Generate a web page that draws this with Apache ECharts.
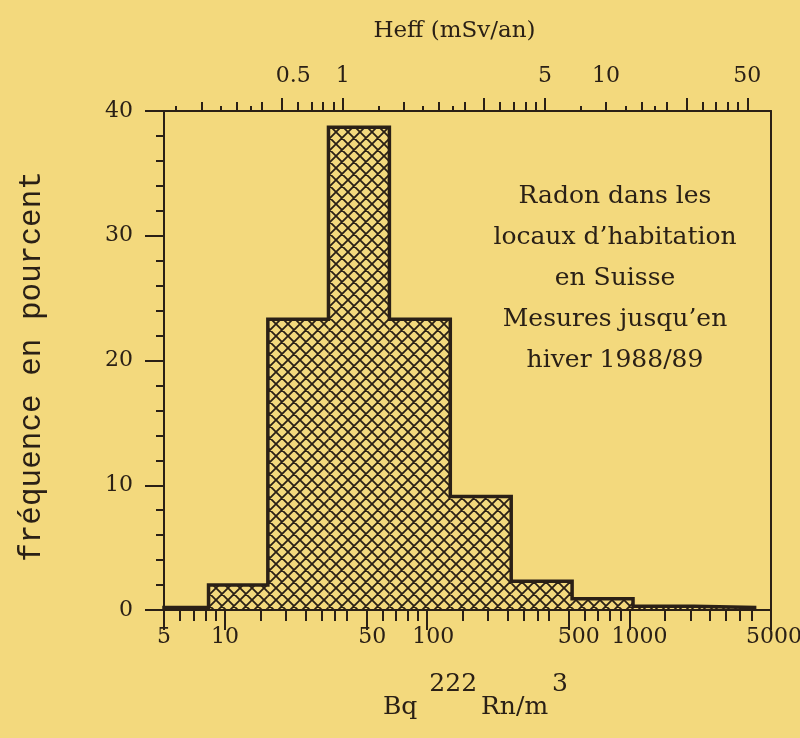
<!DOCTYPE html>
<html><head><meta charset="utf-8">
<script src="https://cdn.jsdelivr.net/npm/echarts@6/dist/echarts.min.js"></script>
<style>html,body{margin:0;padding:0;background:#F3D97D;} #c{width:800px;height:738px;}</style>
</head><body><div id="c"></div>
<script>
// ---------------- data ----------------
// histogram bin edges (Bq 222Rn / m3) and frequency of each bin (%)
const binEdges = [5, 8.3, 16.3, 32.5, 65, 130, 260, 520, 1040, 2080, 4150];
const frequencies = [0.2, 2.0, 23.3, 38.7, 23.3, 9.1, 2.3, 0.9, 0.3, 0.2];

// bottom axis (Bq/m3, logarithmic)
const bottomRange = [5, 5000];
const bottomLabelValues = [5, 10, 50, 100, 500, 1000, 5000];
const bottomMinorTicks = [6, 7, 8, 9, 15, 20, 25, 30, 35, 40, 60, 70, 80, 90,
  150, 200, 250, 300, 350, 400, 600, 700, 800, 900,
  1500, 2000, 2500, 3000, 3500, 4000];

// top axis (Heff mSv/an, logarithmic)
const bqPerMsv = 38.2;
const topLongTicks = [0.5, 1, 5, 10, 50, 100];
const topMediumTicks = [0.2, 0.3, 0.4, 0.6, 0.7, 0.8, 0.9, 2, 3, 4, 6, 7, 8, 9, 20, 30, 40, 60, 70, 80, 90];
const topShortTicks = [0.15, 0.25, 0.35, 1.5, 2.5, 3.5, 15, 25, 35];
const topLabelText = ['0.5', '1', '5', '10', '50'];
const topLabelAt = [0.57, 1, 10, 20, 100];

// y axis (%)
const yRange = [0, 40];
const yLabelStep = 10;
const yMinorStep = 2;

const noteLines = ['Radon dans les', 'locaux d\u2019habitation', 'en Suisse', 'Mesures jusqu\u2019en', 'hiver 1988/89'];

// ---------------- styles ----------------
const INK = '#2a2016';
const BG = '#F3D97D';
const SERIF = 'DejaVu Serif';
const L = Math.log10;

function hatchPattern() {
  const s = 12;
  const c = document.createElement('canvas');
  c.width = s; c.height = s;
  const g = c.getContext('2d');
  g.strokeStyle = INK; g.lineWidth = 1.8;
  g.beginPath();
  for (const k of [-s, 0, s]) { g.moveTo(k, 0); g.lineTo(k + s, s); }
  for (const k of [0, s, 2 * s]) { g.moveTo(k, 0); g.lineTo(k - s, s); }
  g.stroke();
  return { image: c, repeat: 'repeat' };
}
const hatch = hatchPattern();

const gridRect = { left: 164, right: 29, top: 111, bottom: 128, containLabel: false, outerBoundsMode: 'none', show: false };

const xMin = L(bottomRange[0]), xMax = L(bottomRange[1]);
const tMin = L(bottomRange[0] / bqPerMsv), tMax = L(bottomRange[1] / bqPerMsv);

const histData = frequencies.map((f, i) => [L(binEdges[i]), L(binEdges[i + 1]), f]);
const outline = [[L(binEdges[0]), 0]];
frequencies.forEach((f, i) => outline.push([L(binEdges[i]), f]));
outline.push([L(binEdges[binEdges.length - 1]), frequencies[frequencies.length - 1]]);
outline.push([L(binEdges[binEdges.length - 1]), 0]);

const lineSt = { color: INK, width: 2 };
const labelFont = { fontFamily: SERIF, fontSize: 22, color: INK };

// bottom labels sit a little right of their ticks in the original print
function bottomLabel(v) {
  const n = Math.round(Math.pow(10, v));
  const s = String(n);
  if (n === 5 || n === 10) return s;
  if (n === 50 || n === 100) return '{m|' + s + '}';
  if (n === 5000) return '{e|' + s + '}';
  return '{w|' + s + '}';
}

function tickAxis(gridIndex, position, min, max, values, len) {
  return {
    type: 'value', gridIndex, position, min, max,
    axisLine: { show: false, onZero: false }, splitLine: { show: false },
    axisLabel: { show: false },
    axisTick: { show: true, inside: false, length: len, customValues: values, lineStyle: lineSt }
  };
}

const option = {
  backgroundColor: BG,
  animation: false,
  textStyle: { fontFamily: SERIF, color: INK },
  grid: [Object.assign({}, gridRect), Object.assign({}, gridRect), Object.assign({}, gridRect)],
  xAxis: [
    {
      type: 'value', gridIndex: 0, position: 'bottom', min: xMin, max: xMax,
      axisLine: { show: true, onZero: false, lineStyle: lineSt }, splitLine: { show: false },
      axisTick: { show: true, length: 20, customValues: bottomLabelValues.map(L), lineStyle: lineSt },
      axisLabel: Object.assign({ customValues: bottomLabelValues.map(L), margin: 16,
        formatter: bottomLabel,
        rich: {
          m: { fontFamily: SERIF, fontSize: 22, color: INK, padding: [0, 0, 0, 12] },
          w: { fontFamily: SERIF, fontSize: 22, color: INK, padding: [0, 0, 0, 20] },
          e: { fontFamily: SERIF, fontSize: 22, color: INK, padding: [0, 0, 0, 6] }
        } }, labelFont),
      name: '{a|Bq }{s|222}{a|Rn/m}{s|3}', nameLocation: 'middle', nameGap: 62,
      nameTextStyle: { padding: [0, 0, 0, 20], rich: {
        a: { fontFamily: SERIF, fontSize: 25, color: INK, verticalAlign: 'bottom' },
        s: { fontFamily: SERIF, fontSize: 25, color: INK, verticalAlign: 'top', padding: [0, 4, 23, 4] }
      } }
    },
    {
      type: 'value', gridIndex: 0, position: 'top', min: tMin, max: tMax,
      axisLine: { show: true, onZero: false, lineStyle: lineSt }, splitLine: { show: false },
      axisTick: { show: true, length: 13, customValues: topLongTicks.map(L), lineStyle: lineSt },
      axisLabel: Object.assign({ customValues: topLabelAt.map(L), margin: 24,
        formatter: v => { const i = topLabelAt.findIndex(a => Math.abs(L(a) - v) < 1e-6); return i >= 0 ? topLabelText[i] : ''; } }, labelFont),
      name: 'Heff (mSv/an)', nameLocation: 'middle', nameGap: 68,
      nameTextStyle: { fontFamily: SERIF, fontSize: 23, color: INK, padding: [0, 26, 0, 0] }
    },
    tickAxis(1, 'bottom', xMin, xMax, bottomMinorTicks.map(L), 11),
    tickAxis(1, 'top', tMin, tMax, topMediumTicks.map(L), 9),
    tickAxis(2, 'top', tMin, tMax, topShortTicks.map(L), 5)
  ],
  yAxis: [
    {
      type: 'value', gridIndex: 0, position: 'left', min: yRange[0], max: yRange[1], interval: yLabelStep,
      axisLine: { show: true, onZero: false, lineStyle: lineSt }, splitLine: { show: false },
      axisTick: { show: true, length: 19, lineStyle: lineSt },
      axisLabel: Object.assign({ margin: 31 }, labelFont),
      name: 'fréquence en pourcent', nameLocation: 'middle', nameGap: 117, nameRotate: 90,
      nameTextStyle: { fontFamily: 'Liberation Mono', fontSize: 31, color: INK, padding: [0, 12, 0, 0] }
    },
    {
      type: 'value', gridIndex: 0, position: 'right', min: yRange[0], max: yRange[1],
      axisLine: { show: true, onZero: false, lineStyle: lineSt }, splitLine: { show: false },
      axisTick: { show: false }, axisLabel: { show: false }
    },
    {
      type: 'value', gridIndex: 1, position: 'left', min: yRange[0], max: yRange[1], interval: yMinorStep,
      axisLine: { show: false, onZero: false }, splitLine: { show: false }, axisLabel: { show: false },
      axisTick: { show: true, length: 8, lineStyle: lineSt }
    },
    { type: 'value', gridIndex: 2, show: false, min: yRange[0], max: yRange[1], axisLine: { onZero: false } }
  ],
  series: [
    {
      type: 'custom', xAxisIndex: 0, yAxisIndex: 0, z: 2,
      encode: { x: [0, 1], y: 2 },
      data: histData,
      renderItem: (params, api) => {
        const p0 = api.coord([api.value(0), 0]);
        const p1 = api.coord([api.value(1), api.value(2)]);
        return { type: 'rect', shape: { x: p0[0], y: p1[1], width: p1[0] - p0[0], height: p0[1] - p1[1] },
          style: { fill: hatch, stroke: null } };
      }
    },
    {
      type: 'line', xAxisIndex: 0, yAxisIndex: 0, z: 3, step: 'end', showSymbol: false, symbol: 'none',
      data: outline, lineStyle: { color: INK, width: 3.5, join: 'miter' }, clip: false
    }
  ],
  graphic: [
    {
      type: 'text', x: 615, y: 278,
      style: { text: noteLines.join('\n'), fontFamily: SERIF, fontSize: 25, lineHeight: 41,
        fill: INK, align: 'center', verticalAlign: 'middle' }
    }
  ]
};

const chart = echarts.init(document.getElementById('c'), null, { renderer: 'canvas' });
chart.setOption(option);
</script>
</body></html>
